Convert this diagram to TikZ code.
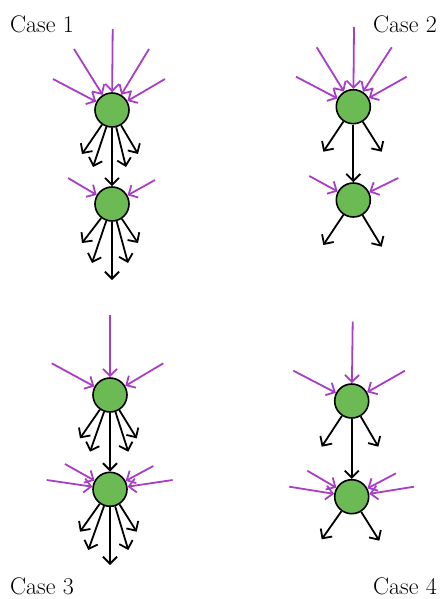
\documentclass[tikz,border=0pt]{standalone}
\usetikzlibrary{arrows.meta}
\definecolor{nodegreen}{RGB}{108,186,84}
\definecolor{inpurple}{RGB}{168,62,200}
\begin{document}
\begin{tikzpicture}[x=1pt,y=-1pt,
  nd/.style={circle,draw=black,fill=nodegreen,line width=1.6pt,minimum size=34pt,inner sep=0pt},
  inarr/.style={draw=inpurple,line width=1.8pt,-{Straight Barb[length=7pt,width=14pt]}},
  outarr/.style={draw=black,line width=1.8pt,-{Straight Barb[length=7pt,width=14pt]}},
  lbl/.style={font=\fontsize{24}{28}\selectfont,inner sep=0pt}]
\useasboundingbox (0,0) rectangle (439,599);
% ---------- Case 1
\node[lbl,anchor=base west] (l1) at (10,33) {Case 1};
\node[nd] (a1) at (112,110) {};
\node[nd] (b1) at (112,204) {};
\coordinate (a1i1) at (112.7,29);
\coordinate (a1i2) at (74,49);
\coordinate (a1i3) at (149,49);
\coordinate (a1i4) at (53,79);
\coordinate (a1i5) at (165,79);
\foreach \c in {a1i1,a1i2,a1i3,a1i4,a1i5} \draw[inarr] (\c) -- (a1);
\coordinate (a1o1) at (82,154);
\coordinate (a1o2) at (93,167);
\coordinate (a1o3) at (126,167);
\coordinate (a1o4) at (138,154);
\foreach \c in {a1o1,a1o2,a1o3,a1o4} \draw[outarr] (a1) -- (\c);
\draw[outarr] (a1) -- (b1);
\coordinate (b1i1) at (68,178);
\coordinate (b1i2) at (155,180);
\foreach \c in {b1i1,b1i2} \draw[inarr] (\c) -- (b1);
\coordinate (b1o1) at (82,243);
\coordinate (b1o2) at (92,263);
\coordinate (b1o3) at (112,280);
\coordinate (b1o4) at (128,263);
\coordinate (b1o5) at (138,243);
\foreach \c in {b1o1,b1o2,b1o3,b1o4,b1o5} \draw[outarr] (b1) -- (\c);
% ---------- Case 2
\node[lbl,anchor=base east] (l2) at (437,33) {Case 2};
\node[nd] (a2) at (353.3,106.7) {};
\node[nd] (b2) at (353.3,200) {};
\coordinate (a2i1) at (354,27);
\coordinate (a2i2) at (316.7,47.3);
\coordinate (a2i3) at (391.7,47.3);
\coordinate (a2i4) at (296,76.7);
\coordinate (a2i5) at (406.7,76.7);
\foreach \c in {a2i1,a2i2,a2i3,a2i4,a2i5} \draw[inarr] (\c) -- (a2);
\coordinate (a2o1) at (323.3,151.7);
\coordinate (a2o2) at (381.7,151.7);
\foreach \c in {a2o1,a2o2} \draw[outarr] (a2) -- (\c);
\draw[outarr] (a2) -- (b2);
\coordinate (b2i1) at (309.3,176);
\coordinate (b2i2) at (398.3,178);
\foreach \c in {b2i1,b2i2} \draw[inarr] (\c) -- (b2);
\coordinate (b2o1) at (323.3,245);
\coordinate (b2o2) at (381.7,246.7);
\foreach \c in {b2o1,b2o2} \draw[outarr] (b2) -- (\c);
% ---------- Case 3
\node[lbl,anchor=base west] (l3) at (10,594) {Case 3};
\node[nd] (a3) at (110,395) {};
\node[nd] (b3) at (110,489.3) {};
\coordinate (a3i1) at (110,315);
\coordinate (a3i2) at (51.7,363.3);
\coordinate (a3i3) at (163.3,363.3);
\foreach \c in {a3i1,a3i2,a3i3} \draw[inarr] (\c) -- (a3);
\coordinate (a3o1) at (80,438.3);
\coordinate (a3o2) at (90,451.7);
\coordinate (a3o3) at (128.3,451.7);
\coordinate (a3o4) at (136.7,438.3);
\foreach \c in {a3o1,a3o2,a3o3,a3o4} \draw[outarr] (a3) -- (\c);
\draw[outarr] (a3) -- (b3);
\coordinate (b3i1) at (65,464);
\coordinate (b3i2) at (46.7,480);
\coordinate (b3i3) at (153.3,466);
\coordinate (b3i4) at (172.7,480);
\foreach \c in {b3i1,b3i2,b3i3,b3i4} \draw[inarr] (\c) -- (b3);
\coordinate (b3o1) at (80,531.7);
\coordinate (b3o2) at (88.3,550);
\coordinate (b3o3) at (110,565);
\coordinate (b3o4) at (128.3,550);
\coordinate (b3o5) at (136.7,531.7);
\foreach \c in {b3o1,b3o2,b3o3,b3o4,b3o5} \draw[outarr] (b3) -- (\c);
% ---------- Case 4
\node[lbl,anchor=base east] (l4) at (437,594) {Case 4};
\node[nd] (a4) at (351.7,401) {};
\node[nd] (b4) at (351.7,496.7) {};
\coordinate (a4i1) at (352.7,321.7);
\coordinate (a4i2) at (293.3,370.7);
\coordinate (a4i3) at (405,370.7);
\foreach \c in {a4i1,a4i2,a4i3} \draw[inarr] (\c) -- (a4);
\coordinate (a4o1) at (321.7,446.7);
\coordinate (a4o2) at (378.3,446.7);
\foreach \c in {a4o1,a4o2} \draw[outarr] (a4) -- (\c);
\draw[outarr] (a4) -- (b4);
\coordinate (b4i1) at (307.3,470.7);
\coordinate (b4i2) at (289.3,486.7);
\coordinate (b4i3) at (396,473.3);
\coordinate (b4i4) at (414,486.7);
\foreach \c in {b4i1,b4i2,b4i3,b4i4} \draw[inarr] (\c) -- (b4);
\coordinate (b4o1) at (321.7,539.3);
\coordinate (b4o2) at (379.3,540.7);
\foreach \c in {b4o1,b4o2} \draw[outarr] (b4) -- (\c);
\end{tikzpicture}
\end{document}
